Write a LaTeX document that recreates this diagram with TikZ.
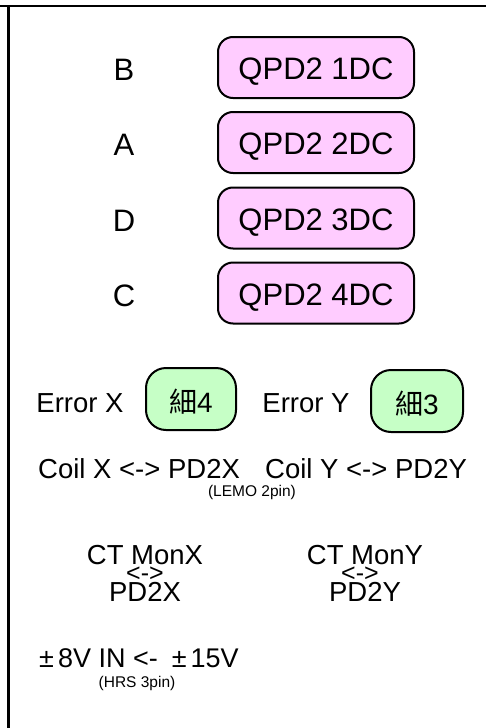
\documentclass[tikz,border=0pt]{standalone}
\usepackage{fontspec}
\setmainfont{Liberation Sans}
\newfontfamily\cjk{Noto Sans CJK TC}
\definecolor{pinkfill}{HTML}{FFCCFF}
\definecolor{greenfill}{HTML}{C6FFC6}
\begin{document}
\begin{tikzpicture}[x=1pt,y=-1pt,
  pinkbox/.style={draw=black,line width=2pt,fill=pinkfill,rounded corners=15pt,
    minimum width=196pt,minimum height=61pt,inner sep=0pt,
    font=\fontsize{31}{31}\selectfont,text height=24pt,text depth=0pt},
  greenbox/.style={draw=black,line width=2pt,fill=greenfill,rounded corners=20pt,
    minimum height=62pt,inner sep=0pt,
    font=\fontsize{28}{28}\selectfont,text height=27pt,text depth=0pt},
  biglbl/.style={inner sep=0pt,anchor=base,font=\fontsize{31}{31}\selectfont},
  lbl/.style={inner sep=0pt,anchor=base,font=\fontsize{27.5}{27.5}\selectfont},
  stacklbl/.style={inner sep=0pt,anchor=north,align=center,font=\fontsize{27.5}{19}\selectfont},
  small/.style={inner sep=0pt,anchor=base,font=\fontsize{15.5}{15.5}\selectfont}]
\useasboundingbox (0,0) rectangle (486,728);
\fill[white] (0,0) rectangle (486,728);
% frame lines
\coordinate (tl) at (0,5.5);
\coordinate (tr) at (486,5.5);
\coordinate (lt) at (8,5);
\coordinate (lb) at (8,728);
\draw[line width=2pt] (tl) -- (tr);
\draw[line width=3pt] (lt) -- (lb);
% pink boxes
\node[pinkbox] (q1) at (316,67.5) {QPD2 1DC};
\node[pinkbox] (q2) at (316,142.5) {QPD2 2DC};
\node[pinkbox] (q3) at (316,218) {QPD2 3DC};
\node[pinkbox] (q4) at (316,293) {QPD2 4DC};
\node[biglbl] (lB) at (124,80) {B};
\node[biglbl] (lA) at (124,155.5) {A};
\node[biglbl] (lD) at (124,231) {D};
\node[biglbl] (lC) at (124,306) {C};
% error row
\node[lbl] (ex) at (80,412) {Error X};
\node[greenbox,minimum width=90pt] (g4) at (191,399) {{\cjk 細}4};
\node[lbl] (ey) at (306,412) {Error Y};
\node[greenbox,minimum width=92pt] (g3) at (417,401) {{\cjk 細}3};
% coil row
\node[lbl,anchor=base west] (cx) at (38,478) {Coil X <-> PD2X};
\node[lbl,anchor=base west] (cy) at (265,478) {Coil Y <-> PD2Y};
\node[small] (lemo) at (252,496) {(LEMO 2pin)};
% CT mon
\node[stacklbl] (ctx) at (145,545) {CT MonX\\[-2pt]{\fontsize{25}{19}\selectfont <->}\\PD2X};
\node[stacklbl] (cty) at (365,545) {CT MonY\\[-2pt]{\fontsize{25}{19}\selectfont\kern-10pt <->}\\PD2Y};
% power
\node[lbl,anchor=base west,font=\fontsize{27}{27}\selectfont] (pw) at (39,667) {±\kern4pt 8V IN <-\kern14pt ±\kern4pt 15V};
\node[small] (hrs) at (137,687) {(HRS 3pin)};
\end{tikzpicture}
\end{document}
